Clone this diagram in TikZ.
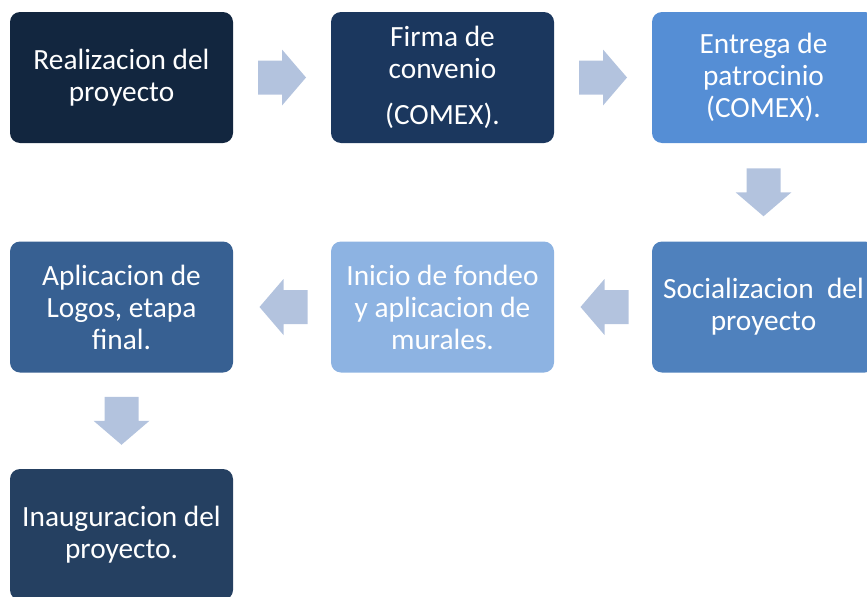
\documentclass[tikz,border=0pt]{standalone}
\usepackage{fontspec}
\setmainfont{Carlito}
\usetikzlibrary{calc}
\definecolor{cA}{HTML}{12263F}
\definecolor{cB}{HTML}{1B375E}
\definecolor{cC}{HTML}{558ED5}
\definecolor{cD}{HTML}{4F81BD}
\definecolor{cE}{HTML}{8DB3E2}
\definecolor{cF}{HTML}{376092}
\definecolor{cG}{HTML}{254061}
\definecolor{arrowc}{HTML}{B3C3DE}
\tikzset{
  stepbox/.style={rectangle, rounded corners=7.5pt, minimum width=167.25pt, minimum height=98.25pt,
    inner sep=0pt, align=center, text=white, font=\fontsize{22}{24}\selectfont},
  blockarrow/.pic={\fill[arrowc] (-24,-17) -- (0,-17) -- (0,-28) -- (24,0) -- (0,28) -- (0,17) -- (-24,17) -- cycle;}
}
\begin{document}
\begin{tikzpicture}[x=0.75pt,y=-0.75pt]
\useasboundingbox (0,0) rectangle (867,596);
\clip (0,0) rectangle (867,596);
\node[stepbox, fill=cA] (b1) at (121.5,77.5) {Realizacion del\\proyecto};
\node[stepbox, fill=cB] (b2) at (442.5,77.5) {Firma de\\convenio\\[10.5pt](COMEX).};
\node[stepbox, fill=cC] (b3) at (763.5,77.5) {Entrega de\\patrocinio\\(COMEX).};
\node[stepbox, fill=cD] (b4) at (763.5,307) {Socializacion\ \ del\\proyecto};
\node[stepbox, fill=cE] (b5) at (442.5,307) {Inicio de fondeo\\y aplicacion de\\murales.};
\node[stepbox, fill=cF] (b6) at (121.5,307) {Aplicacion de\\Logos, etapa\\final.};
\node[stepbox, fill=cG] (b7) at (121.5,534.5) {Inauguracion del\\proyecto.};
\pic at ($(b1.east)!0.5!(b2.west)$) {blockarrow};
\pic at ($(b2.east)!0.5!(b3.west)$) {blockarrow};
\pic[rotate=-90] at ($(b3.south)!0.5!(b4.north)$) {blockarrow};
\pic[rotate=180] at ($(b4.west)!0.5!(b5.east)+(1.5,0)$) {blockarrow};
\pic[rotate=180] at ($(b5.west)!0.5!(b6.east)+(1.5,0)$) {blockarrow};
\pic[rotate=-90] at ($(b6.south)!0.5!(b7.north)$) {blockarrow};
\end{tikzpicture}
\end{document}
